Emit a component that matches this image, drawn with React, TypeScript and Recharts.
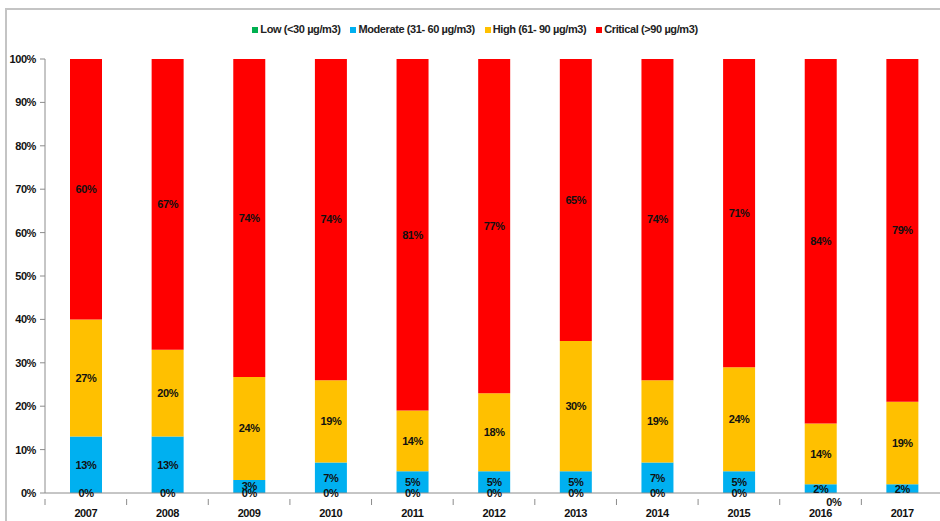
import React from 'react';
import { BarChart, Bar, XAxis, YAxis, Legend, LabelList } from 'recharts';

const years = ['2007', '2008', '2009', '2010', '2011', '2012', '2013', '2014', '2015', '2016', '2017'];
const low = [0, 0, 0, 0, 0, 0, 0, 0, 0, 0, null];
const moderate = [13, 13, 3, 7, 5, 5, 5, 7, 5, 2, 2];
const high = [27, 20, 24, 19, 14, 18, 30, 19, 24, 14, 19];
const critical = [60, 67, 74, 74, 81, 77, 65, 74, 71, 84, 79];
const yTicks = [0, 0.1, 0.2, 0.3, 0.4, 0.5, 0.6, 0.7, 0.8, 0.9, 1];

const series = [
  { key: 'low', name: 'Low (<30 µg/m3)', color: '#00B050' },
  { key: 'moderate', name: 'Moderate (31- 60 µg/m3)', color: '#00B0F0' },
  { key: 'high', name: 'High (61- 90 µg/m3)', color: '#FFC000' },
  { key: 'critical', name: 'Critical (>90 µg/m3)', color: '#FF0000' },
];

const data = years.map((year, i) => ({
  year,
  low: low[i],
  moderate: moderate[i],
  high: high[i],
  critical: critical[i],
}));

const FONT = '"Liberation Sans", Arial, sans-serif';
const AXIS = '#8c8c8c';
const TEXT = { fontSize: 11, fontWeight: 'bold', fontFamily: FONT, fill: '#111', letterSpacing: -0.4 };

const pct = (v: any) => (v == null ? '' : `${v}%`);

// Excel puts category ticks between the bars, so draw them at the band edge
const YearTick = (props: any) => {
  const { x, y, payload } = props;
  const edge = x - (payload.offset || 0);
  return (
    <g>
      <line x1={edge} y1={y - 2} x2={edge} y2={y + 4} stroke={AXIS} />
      <text x={x} y={y + 16} textAnchor="middle" style={TEXT}>
        {payload.value}
      </text>
    </g>
  );
};

// "Low" is zero-height, so its label is drawn at the base of the Moderate bar;
// the 2016 one gets nudged off the 2%
const LowLabel = (props: any) => {
  const box = props.viewBox || props;
  const { value, index } = props;
  if (value == null || box.x == null) return null;
  const nudge = years[index] === '2016' ? { dx: 13, dy: 9 } : { dx: 0, dy: 0 };
  return (
    <text
      x={box.x + box.width / 2 + nudge.dx}
      y={box.y + box.height + nudge.dy}
      textAnchor="middle"
      dominantBaseline="central"
      style={TEXT}
    >
      {`${value}%`}
    </text>
  );
};

export default function App() {
  return (
    <div style={{ position: 'absolute', left: 0, top: 0, width: 940, height: 521, overflow: 'hidden', background: '#fff' }}>
      <div
        style={{
          position: 'absolute',
          left: 5,
          top: 8,
          width: 960,
          height: 540,
          borderTop: '2px solid #c4c4c4',
          borderLeft: '2px solid #c4c4c4',
        }}
      />
      <BarChart
        width={945}
        height={521}
        data={data}
        stackOffset="expand"
        barSize={32}
        margin={{ top: 47, right: 2, bottom: 0, left: 5 }}
      >
        <Legend
          verticalAlign="top"
          align="center"
          iconType="square"
          iconSize={6}
          itemSorter={(item: any) => series.findIndex((s) => s.name === item.value)}
          wrapperStyle={{ position: 'absolute', top: 23, left: 30, width: 900, fontFamily: FONT, fontSize: 11, fontWeight: 'bold', letterSpacing: -0.4 }}
          formatter={(value: any) => <span style={{ color: '#222', marginLeft: -2 }}>{value}</span>}
        />
        <XAxis
          dataKey="year"
          axisLine={{ stroke: AXIS }}
          tickLine={false}
          tick={<YearTick />}
          height={28}
          interval={0}
        />
        <YAxis
          width={40}
          domain={[0, 1]}
          ticks={yTicks}
          tickFormatter={(v: number) => `${Math.round(v * 100)}%`}
          axisLine={{ stroke: AXIS }}
          tickLine={{ stroke: AXIS }}
          tickSize={5}
          tickMargin={4}
          tick={TEXT}
        />
        {series.map((s) => (
          <Bar key={s.key} dataKey={s.key} name={s.name} stackId="a" fill={s.color} isAnimationActive={false}>
            {s.key === 'moderate' && <LabelList dataKey="low" content={<LowLabel />} />}
            {s.key !== 'low' && <LabelList dataKey={s.key} position="center" formatter={pct} style={TEXT} />}
          </Bar>
        ))}
      </BarChart>
    </div>
  );
}
